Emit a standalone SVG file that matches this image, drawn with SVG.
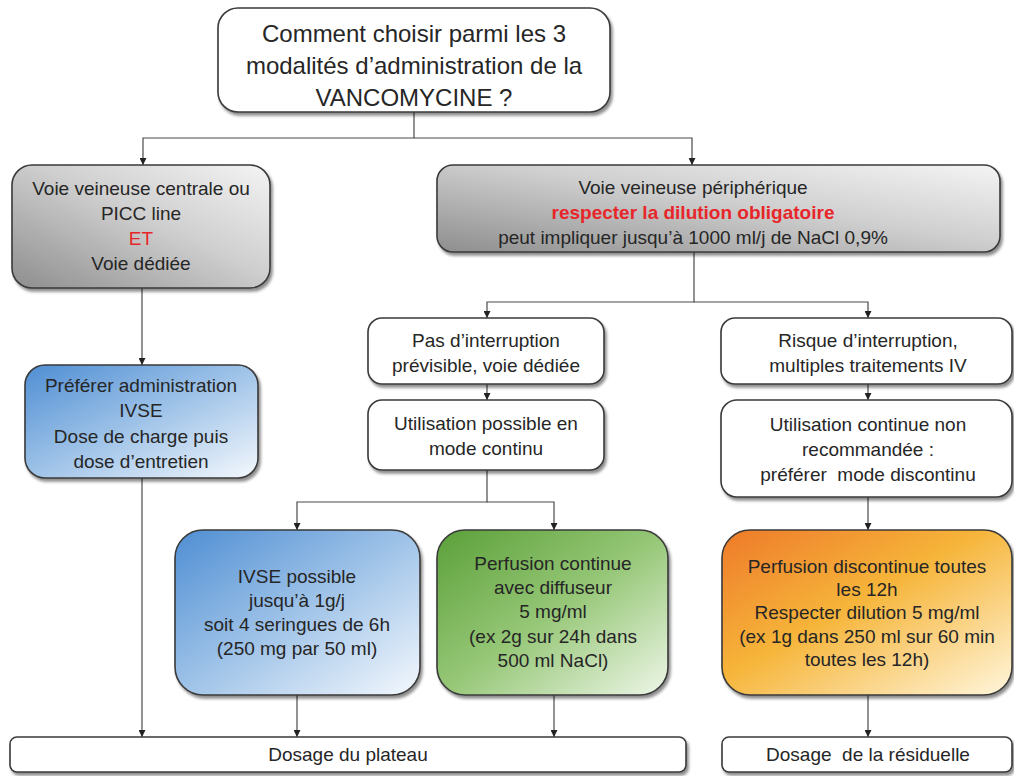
<svg xmlns="http://www.w3.org/2000/svg" width="1014" height="776" viewBox="0 0 1014 776">
<style>
.box{stroke:#3a3a3a;stroke-width:1.6}
.w{fill:#ffffff}
.t{font-family:"Liberation Sans","DejaVu Sans",sans-serif;fill:#262626;text-anchor:middle;font-size:19px}
.title{font-size:24px}
.red{fill:#e8262a}
.b{font-weight:bold}
.c{fill:none;stroke:#4a4a4a;stroke-width:1.2}
</style>
<defs>
<filter id="sh" x="-10%" y="-10%" width="125%" height="130%">
<feGaussianBlur in="SourceAlpha" stdDeviation="1.8"/>
<feOffset dx="2" dy="2.5" result="o"/>
<feComponentTransfer><feFuncA type="linear" slope="0.45"/></feComponentTransfer>
<feMerge><feMergeNode/><feMergeNode in="SourceGraphic"/></feMerge>
</filter>
<linearGradient id="gray" x1="0" y1="1" x2="1" y2="0">
<stop offset="0" stop-color="#8e8e8e"/>
<stop offset="0.55" stop-color="#cfcfcf"/>
<stop offset="1" stop-color="#f4f4f4"/>
</linearGradient>
<linearGradient id="blue" x1="0" y1="0" x2="1" y2="1">
<stop offset="0" stop-color="#4f8ed3"/>
<stop offset="0.5" stop-color="#9fc3e8"/>
<stop offset="1" stop-color="#f4f8fd"/>
</linearGradient>
<linearGradient id="green" x1="0" y1="0" x2="1" y2="1">
<stop offset="0" stop-color="#5ba039"/>
<stop offset="0.5" stop-color="#96c777"/>
<stop offset="1" stop-color="#eef6e8"/>
</linearGradient>
<linearGradient id="orange" x1="0" y1="0" x2="1" y2="1">
<stop offset="0" stop-color="#ee7a2a"/>
<stop offset="0.45" stop-color="#f6b53a"/>
<stop offset="1" stop-color="#fff6dc"/>
</linearGradient>
<marker id="ar" viewBox="0 0 10 10" refX="10" refY="5" markerWidth="7" markerHeight="7" orient="auto" markerUnits="userSpaceOnUse">
<path d="M0,0 L10,5 L0,10 z" fill="#222"/>
</marker>
</defs>

<g id="connectors">
<path class="c" d="M414,112 V138 H143 V165" marker-end="url(#ar)"/>
<path class="c" d="M414,138 H692 V165" marker-end="url(#ar)"/>
<path class="c" d="M142,288 V365" marker-end="url(#ar)"/>
<path class="c" d="M142,478 V737" marker-end="url(#ar)"/>
<path class="c" d="M694,252 V302 H487 V318" marker-end="url(#ar)"/>
<path class="c" d="M694,302 H868 V318" marker-end="url(#ar)"/>
<path class="c" d="M487,384 V400" marker-end="url(#ar)"/>
<path class="c" d="M487,470 V502 H297 V530" marker-end="url(#ar)"/>
<path class="c" d="M487,502 H554 V530" marker-end="url(#ar)"/>
<path class="c" d="M868,384 V400" marker-end="url(#ar)"/>
<path class="c" d="M868,497 V530" marker-end="url(#ar)"/>
<path class="c" d="M297,695 V737" marker-end="url(#ar)"/>
<path class="c" d="M554,695 V737" marker-end="url(#ar)"/>
<path class="c" d="M868,695 V737" marker-end="url(#ar)"/>
</g>

<g id="n_question">
<rect class="box w" x="218" y="8" width="392" height="104" rx="20" filter="url(#sh)"/>
<text class="t title" x="414" y="42">Comment choisir parmi les 3</text>
<text class="t title" x="414" y="74">modalités d’administration de la</text>
<text class="t title" x="414" y="106">VANCOMYCINE ?</text>
</g>

<g id="n_centrale">
<rect class="box" fill="url(#gray)" x="12" y="165" width="258" height="123" rx="20" filter="url(#sh)"/>
<text class="t" x="141" y="195">Voie veineuse centrale ou</text>
<text class="t" x="141" y="220">PICC line</text>
<text class="t red" x="141" y="245">ET</text>
<text class="t" x="141" y="270">Voie dédiée</text>
</g>

<g id="n_peripherique">
<rect class="box" fill="url(#gray)" x="437" y="165" width="563" height="87" rx="16" filter="url(#sh)"/>
<text class="t" x="693" y="194">Voie veineuse périphérique</text>
<text class="t red b" x="693" y="219">respecter la dilution obligatoire</text>
<text class="t" x="693" y="244">peut impliquer jusqu’à 1000 ml/j de NaCl 0,9%</text>
</g>

<g id="n_preferer">
<rect class="box" fill="url(#blue)" x="25" y="365" width="233" height="113" rx="20" filter="url(#sh)"/>
<text class="t" x="141" y="392">Préférer administration</text>
<text class="t" x="141" y="417">IVSE</text>
<text class="t" x="141" y="443">Dose de charge puis</text>
<text class="t" x="141" y="468">dose d’entretien</text>
</g>

<g id="n_pas_interruption">
<rect class="box w" x="368" y="318" width="236" height="66" rx="14" filter="url(#sh)"/>
<text class="t" x="486" y="347">Pas d’interruption</text>
<text class="t" x="486" y="372">prévisible, voie dédiée</text>
</g>

<g id="n_utilisation_continu">
<rect class="box w" x="368" y="400" width="236" height="70" rx="14" filter="url(#sh)"/>
<text class="t" x="486" y="430">Utilisation possible en</text>
<text class="t" x="486" y="455">mode continu</text>
</g>

<g id="n_risque">
<rect class="box w" x="721" y="318" width="291" height="66" rx="14" filter="url(#sh)"/>
<text class="t" x="868" y="347">Risque d’interruption,</text>
<text class="t" x="868" y="372">multiples traitements IV</text>
</g>

<g id="n_non_recommandee">
<rect class="box w" x="721" y="400" width="291" height="97" rx="16" filter="url(#sh)"/>
<text class="t" x="868" y="431">Utilisation continue non</text>
<text class="t" x="868" y="456">recommandée :</text>
<text class="t" x="868" y="481" xml:space="preserve">préférer  mode discontinu</text>
</g>

<g id="n_ivse">
<rect class="box" fill="url(#blue)" x="175" y="530" width="245" height="165" rx="28" filter="url(#sh)"/>
<text class="t" x="297" y="583">IVSE possible</text>
<text class="t" x="297" y="607">jusqu’à 1g/j</text>
<text class="t" x="297" y="631">soit 4 seringues de 6h</text>
<text class="t" x="297" y="655">(250 mg par 50 ml)</text>
</g>

<g id="n_perfusion_continue">
<rect class="box" fill="url(#green)" x="437" y="530" width="231" height="165" rx="28" filter="url(#sh)"/>
<text class="t" x="553" y="570">Perfusion continue</text>
<text class="t" x="553" y="594">avec diffuseur</text>
<text class="t" x="553" y="618">5 mg/ml</text>
<text class="t" x="553" y="643">(ex 2g sur 24h dans</text>
<text class="t" x="553" y="667">500 ml NaCl)</text>
</g>

<g id="n_perfusion_discontinue">
<rect class="box" fill="url(#orange)" x="722" y="530" width="290" height="165" rx="28" filter="url(#sh)"/>
<text class="t" x="867" y="573">Perfusion discontinue toutes</text>
<text class="t" x="867" y="596">les 12h</text>
<text class="t" x="867" y="619">Respecter dilution 5 mg/ml</text>
<text class="t" x="867" y="643">(ex 1g dans 250 ml sur 60 min</text>
<text class="t" x="867" y="666">toutes les 12h)</text>
</g>

<g id="n_plateau">
<rect class="box w" x="10" y="737" width="676" height="35" rx="7" filter="url(#sh)"/>
<text class="t" x="348" y="761">Dosage du plateau</text>
</g>

<g id="n_residuelle">
<rect class="box w" x="722" y="737" width="290" height="35" rx="7" filter="url(#sh)"/>
<text class="t" x="868" y="761" xml:space="preserve">Dosage  de la résiduelle</text>
</g>
</svg>
